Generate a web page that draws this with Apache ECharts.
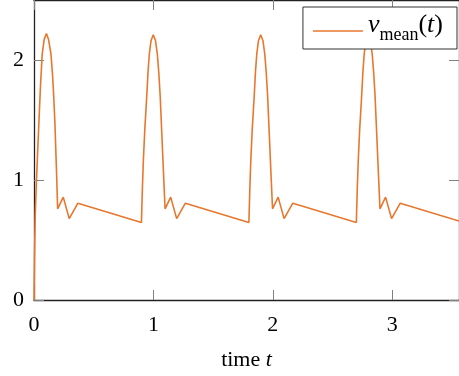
<!DOCTYPE html>
<html>
<head>
<meta charset="utf-8">
<script src="https://cdn.jsdelivr.net/npm/echarts@6/dist/echarts.min.js"></script>
<style>
  html, body { margin: 0; padding: 0; background: #fff; }
  #chart { width: 459px; height: 376px; }
</style>
</head>
<body>
<div id="chart"></div>
<script>
// t and v_mean(t)
const times = [
  0, 0.004, 0.010, 0.020, 0.030, 0.042, 0.055, 0.069, 0.085, 0.104, 0.122, 0.142, 0.155, 0.165, 0.175, 0.187, 0.198, 0.245, 0.295, 0.368,
  0.900, 0.908, 0.916, 0.928, 0.944, 0.955, 0.966, 0.980, 0.999, 1.018, 1.033, 1.045, 1.057, 1.070, 1.083, 1.098, 1.145, 1.195, 1.268,
  1.800, 1.808, 1.816, 1.828, 1.844, 1.855, 1.866, 1.880, 1.899, 1.918, 1.933, 1.945, 1.957, 1.970, 1.983, 1.998, 2.045, 2.095, 2.168,
  2.700, 2.708, 2.716, 2.728, 2.744, 2.755, 2.766, 2.780, 2.799, 2.818, 2.833, 2.845, 2.857, 2.870, 2.883, 2.898, 2.945, 2.995, 3.068,
  3.560
];
const vMean = [
  0, 0.35, 0.70, 0.98, 1.22, 1.50, 1.80, 2.05, 2.17, 2.22, 2.17, 2.05, 1.88, 1.70, 1.48, 1.12, 0.76, 0.857, 0.678, 0.807,
  0.645, 0.93, 1.16, 1.42, 1.69, 1.90, 2.05, 2.16, 2.21, 2.16, 2.05, 1.90, 1.70, 1.40, 1.10, 0.76, 0.857, 0.678, 0.807,
  0.645, 0.93, 1.16, 1.42, 1.69, 1.90, 2.05, 2.16, 2.21, 2.16, 2.05, 1.90, 1.70, 1.40, 1.10, 0.76, 0.857, 0.678, 0.807,
  0.645, 0.93, 1.16, 1.42, 1.69, 1.90, 2.05, 2.16, 2.21, 2.16, 2.05, 1.90, 1.70, 1.40, 1.10, 0.76, 0.857, 0.678, 0.807,
  0.658
];
const xTicks = [0, 1, 2, 3];
const yTicks = [0, 1, 2];

const chart = echarts.init(document.getElementById("chart"), null, { renderer: "canvas" });

const serif = "'Liberation Serif', 'DejaVu Serif', serif";
const lineColor = "#e8772e";
const frameColor = "#222";
const tickColor = "#808080";

const frameAxis = {
  type: "value",
  axisLine: { show: true, onZero: false, lineStyle: { color: frameColor, width: 1.3 } },
  splitLine: { show: false },
};
const tick = (vals) => ({
  show: true, inside: true, length: 10, customValues: vals,
  lineStyle: { color: tickColor, width: 1 },
});

chart.setOption({
  animation: false,
  backgroundColor: "#fff",
  grid: { left: 34, top: 0, width: 426, height: 302 },
  legend: {
    right: 2,
    top: 7,
    padding: [5, 14, 5, 10],
    backgroundColor: "#fff",
    borderColor: "#333",
    borderWidth: 1,
    icon: "rect",
    itemWidth: 50,
    itemHeight: 1.6,
    formatter: () => "{v|v}{s|mean}{p|(}{v|t}{p|)}",
    textStyle: {
      rich: {
        v: { fontFamily: serif, fontSize: 26, fontStyle: "italic", color: "#000", lineHeight: 26, padding: [0, 0, 6, 0], verticalAlign: "bottom" },
        p: { fontFamily: serif, fontSize: 26, color: "#000", lineHeight: 26, padding: [0, 0, 6, 0], verticalAlign: "bottom" },
        s: { fontFamily: serif, fontSize: 18, color: "#000", lineHeight: 18, verticalAlign: "bottom" },
      },
    },
    data: ["vmean"],
  },
  xAxis: [
    Object.assign({}, frameAxis, {
      min: 0,
      max: 3.56,
      interval: 1,
      position: "bottom",
      axisLabel: {
        fontFamily: serif,
        fontSize: 22,
        color: "#000",
        margin: 14,
        customValues: xTicks,
      },
      axisTick: tick(xTicks),
      name: "time {i|t}",
      nameLocation: "middle",
      nameGap: 49,
      nameTextStyle: {
        fontFamily: serif,
        fontSize: 22,
        color: "#000",
        rich: { i: { fontFamily: serif, fontSize: 22, fontStyle: "italic", color: "#000" } },
      },
    }),
    Object.assign({}, frameAxis, {
      min: 0,
      max: 3.56,
      interval: 1,
      position: "top",
      axisLabel: { show: false },
      axisTick: tick(xTicks),
    }),
  ],
  yAxis: [
    Object.assign({}, frameAxis, {
      min: 0,
      max: 2.5,
      interval: 1,
      position: "left",
      axisLabel: {
        fontFamily: serif,
        fontSize: 22,
        color: "#000",
        margin: 10,
        padding: [7, 0, 0, 0],
        customValues: yTicks,
      },
      axisTick: tick(yTicks),
    }),
    Object.assign({}, frameAxis, {
      min: 0,
      max: 2.5,
      interval: 1,
      position: "right",
      axisLabel: { show: false },
      axisTick: tick(yTicks),
    }),
  ],
  series: [
    {
      name: "vmean",
      type: "line",
      data: times.map((t, i) => [t, vMean[i]]),
      symbol: "none",
      showSymbol: false,
      clip: true,
      lineStyle: { color: lineColor, width: 1.6 },
      itemStyle: { color: lineColor },
      z: 1,
    },
  ],
});
</script>
</body>
</html>
